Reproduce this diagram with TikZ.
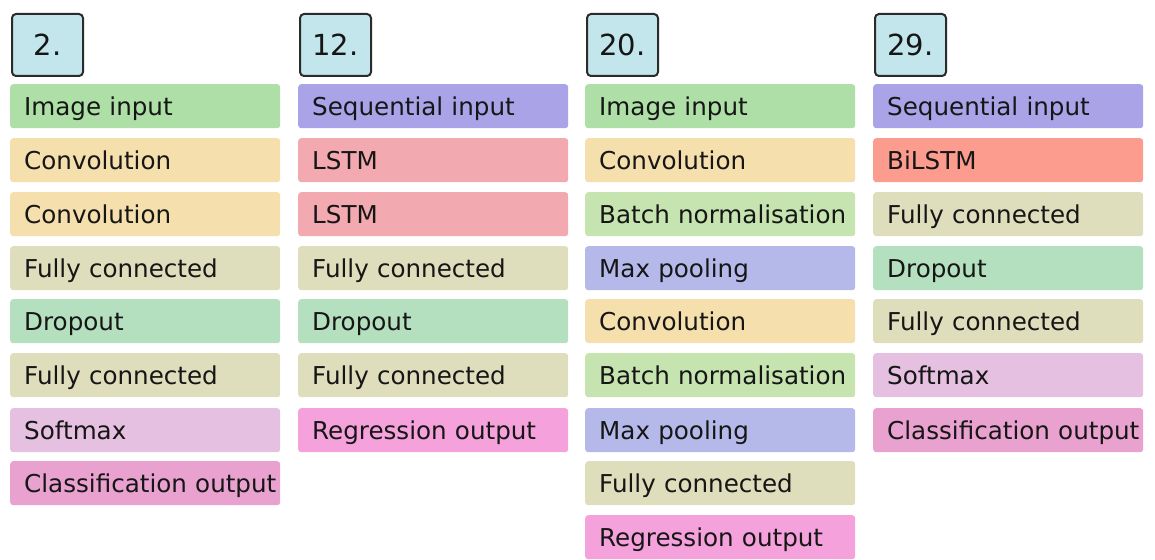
\documentclass[tikz,border=0pt]{standalone}
\usepackage{fontspec}
\setmainfont{DejaVu Sans}
\definecolor{cImg}{RGB}{173,223,166}
\definecolor{cConv}{RGB}{245,223,172}
\definecolor{cFC}{RGB}{223,222,188}
\definecolor{cDrop}{RGB}{181,224,191}
\definecolor{cSoft}{RGB}{229,192,224}
\definecolor{cClass}{RGB}{233,162,207}
\definecolor{cSeq}{RGB}{170,163,232}
\definecolor{cLSTM}{RGB}{242,169,176}
\definecolor{cReg}{RGB}{245,161,220}
\definecolor{cBN}{RGB}{198,228,176}
\definecolor{cMax}{RGB}{180,185,234}
\definecolor{cBi}{RGB}{252,156,143}
\definecolor{cNum}{RGB}{194,230,235}
\definecolor{cNumLine}{RGB}{43,43,43}
\definecolor{cText}{RGB}{22,22,22}
\begin{document}
\begin{tikzpicture}[x=1pt,y=-1pt,
  layerbox/.style={fill=#1, rounded corners=3pt, anchor=north west,
    minimum width=270pt, minimum height=44pt, text width=242pt,
    inner xsep=14pt, inner ysep=0pt, align=left,
    font=\fontsize{24.6}{27}\selectfont, text height=20.5pt, text depth=2pt,
    text=cText},
  numbox/.style={draw=cNumLine, line width=2pt, fill=cNum, rounded corners=4pt,
    anchor=north west, minimum width=71pt, minimum height=62pt, inner sep=0pt,
    font=\fontsize{29}{32}\selectfont, text=cText}]
\useasboundingbox (0,0) rectangle (1155,559);
% column 1
\node[numbox] (n1) at (11,13) {2.};
\node[layerbox=cImg]   (a1) at (10,84)    {\mbox{Image input}};
\node[layerbox=cConv]  (a2) at (10,138)   {\mbox{Convolution}};
\node[layerbox=cConv]  (a3) at (10,192)   {\mbox{Convolution}};
\node[layerbox=cFC]    (a4) at (10,246)   {\mbox{Fully connected}};
\node[layerbox=cDrop]  (a5) at (10,299)   {\mbox{Dropout}};
\node[layerbox=cFC]    (a6) at (10,353)   {\mbox{Fully connected}};
\node[layerbox=cSoft]  (a7) at (10,408)   {\mbox{Softmax}};
\node[layerbox=cClass] (a8) at (10,461)   {\mbox{Classification output}};
% column 2
\node[numbox] (n2) at (299,13) {12.};
\node[layerbox=cSeq]   (b1) at (298,84)   {\mbox{Sequential input}};
\node[layerbox=cLSTM]  (b2) at (298,138)  {\mbox{LSTM}};
\node[layerbox=cLSTM]  (b3) at (298,192)  {\mbox{LSTM}};
\node[layerbox=cFC]    (b4) at (298,246)  {\mbox{Fully connected}};
\node[layerbox=cDrop]  (b5) at (298,299)  {\mbox{Dropout}};
\node[layerbox=cFC]    (b6) at (298,353)  {\mbox{Fully connected}};
\node[layerbox=cReg]   (b7) at (298,408)  {\mbox{Regression output}};
% column 3
\node[numbox] (n3) at (586,13) {20.};
\node[layerbox=cImg]   (c1) at (585,84)   {\mbox{Image input}};
\node[layerbox=cConv]  (c2) at (585,138)  {\mbox{Convolution}};
\node[layerbox=cBN]    (c3) at (585,192)  {\mbox{Batch normalisation}};
\node[layerbox=cMax]   (c4) at (585,246)  {\mbox{Max pooling}};
\node[layerbox=cConv]  (c5) at (585,299)  {\mbox{Convolution}};
\node[layerbox=cBN]    (c6) at (585,353)  {\mbox{Batch normalisation}};
\node[layerbox=cMax]   (c7) at (585,408)  {\mbox{Max pooling}};
\node[layerbox=cFC]    (c8) at (585,461)  {\mbox{Fully connected}};
\node[layerbox=cReg]   (c9) at (585,515)  {\mbox{Regression output}};
% column 4
\node[numbox] (n4) at (874,13) {29.};
\node[layerbox=cSeq]   (d1) at (873,84)   {\mbox{Sequential input}};
\node[layerbox=cBi]    (d2) at (873,138)  {\mbox{BiLSTM}};
\node[layerbox=cFC]    (d3) at (873,192)  {\mbox{Fully connected}};
\node[layerbox=cDrop]  (d4) at (873,246)  {\mbox{Dropout}};
\node[layerbox=cFC]    (d5) at (873,299)  {\mbox{Fully connected}};
\node[layerbox=cSoft]  (d6) at (873,353)  {\mbox{Softmax}};
\node[layerbox=cClass] (d7) at (873,408)  {\mbox{Classification output}};
\end{tikzpicture}
\end{document}
